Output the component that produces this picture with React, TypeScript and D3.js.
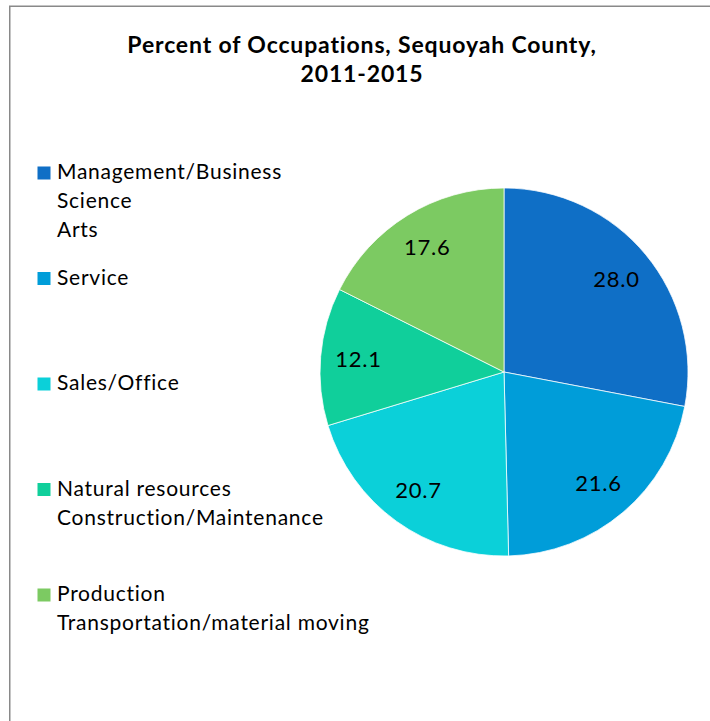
import React, { useEffect, useRef } from 'react'
import * as d3 from 'd3';

const WIDTH = 710;
const HEIGHT = 721;

const categories = [
  ["Management/Business", "Science", "Arts"],
  ["Service"],
  ["Sales/Office"],
  ["Natural resources", "Construction/Maintenance"],
  ["Production", "Transportation/material moving"],
];
const values = [28.0, 21.6, 20.7, 12.1, 17.6];
const colors = ["#0F6FC6", "#009DD9", "#0BD0D9", "#10CF9B", "#7CCA62"];
const titleLines = ["Percent of Occupations, Sequoyah County,", "2011-2015"];

const FONT = "Lato, 'Open Sans', sans-serif";

const App = () => {
  const svgRef = useRef<SVGSVGElement>(null);

  useEffect(() => {
    const svg = d3.select(svgRef.current);
    svg.selectAll("*").remove();

    // chart frame (runs off the right and bottom of the page)
    svg.append("rect")
      .attr("x", 9.75).attr("y", 6.25)
      .attr("width", WIDTH + 20).attr("height", HEIGHT + 20)
      .attr("fill", "#fff")
      .attr("stroke", "#898989")
      .attr("stroke-width", 1.5);

    // title
    svg.append("g")
      .attr("text-anchor", "middle")
      .style("font-family", FONT)
      .style("font-weight", "bold")
      .style("font-size", "23px")
      .style("letter-spacing", "0.85px")
      .selectAll("text")
      .data(titleLines)
      .join("text")
        .attr("x", 362)
        .attr("y", (d, i) => 53 + i * 29)
        .attr("fill", "#000")
        .text(d => d);

    // pie
    const cx = 504, cy = 372, r = 184;
    const pie = d3.pie<number>().sort(null).value(d => d);
    const arcs = pie(values);
    const arc = d3.arc<d3.PieArcDatum<number>>().innerRadius(0).outerRadius(r);
    const labelArc = d3.arc<d3.PieArcDatum<number>>().innerRadius(146).outerRadius(146);

    const g = svg.append("g").attr("transform", `translate(${cx},${cy})`);
    g.selectAll("path")
      .data(arcs)
      .join("path")
        .attr("d", arc)
        .attr("fill", (d, i) => colors[i])
        .attr("stroke", "#fff")
        .attr("stroke-width", 0.75);

    g.selectAll("text")
      .data(arcs)
      .join("text")
        .attr("transform", d => `translate(${labelArc.centroid(d)})`)
        .attr("text-anchor", "middle")
        .attr("dy", "0.35em")
        .style("font-family", FONT)
        .style("font-size", "22px")
        .style("letter-spacing", "0.8px")
        .attr("fill", "#000")
        .text(d => d3.format(".1f")(d.data));

    // legend
    const legendY = d3.scaleLinear().domain([0, 4]).range([179, 601]);
    const item = svg.append("g")
      .style("font-family", FONT)
      .style("font-size", "21px")
      .style("letter-spacing", "0.75px")
      .selectAll("g")
      .data(categories)
      .join("g")
        .attr("transform", (d, i) => `translate(0,${legendY(i)})`);

    item.append("rect")
      .attr("x", 37.5).attr("y", -12.5)
      .attr("width", 13).attr("height", 13)
      .attr("fill", (d, i) => colors[i]);

    item.selectAll("text")
      .data(d => d)
      .join("text")
        .attr("x", 57)
        .attr("y", (d, i) => i * 29)
        .attr("fill", "#000")
        .text(d => d);
  }, []);

  return (
    <svg ref={svgRef} width={WIDTH} height={HEIGHT}
      style={{ position: 'absolute', left: 0, top: 0, background: '#fff' }} />
  );
}

export default App;
